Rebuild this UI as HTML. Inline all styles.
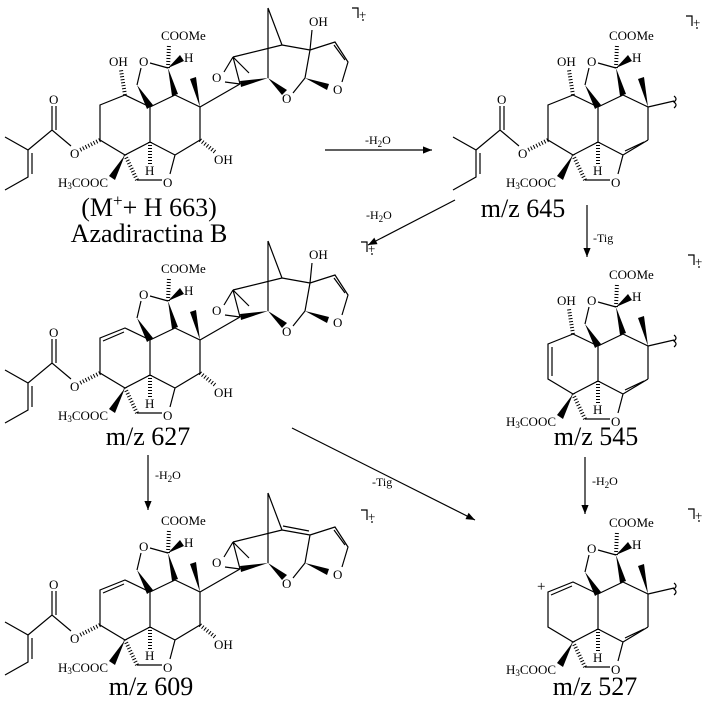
<!DOCTYPE html>
<html><head><meta charset="utf-8"><style>
html,body{margin:0;padding:0;background:#fff;}
svg{display:block;font-family:"Liberation Serif",serif;}
</style></head><body>
<svg width="722" height="702" viewBox="0 0 722 702" xmlns="http://www.w3.org/2000/svg">
<defs>
<marker id="ah" viewBox="0 0 10 10" refX="10" refY="5" markerWidth="9" markerHeight="9" orient="auto" markerUnits="userSpaceOnUse"><path d="M0,1 L10,5 L0,9 z" fill="#000"/></marker>
</defs>
<g stroke="#000" stroke-width="1.2" fill="none">
<line x1="325" y1="150" x2="432" y2="150" marker-end="url(#ah)"/>
<line x1="455" y1="200" x2="368" y2="245" marker-end="url(#ah)"/>
<line x1="587" y1="205" x2="587" y2="257" marker-end="url(#ah)"/>
<line x1="148" y1="455" x2="148" y2="510" marker-end="url(#ah)"/>
<line x1="585" y1="457" x2="585" y2="514" marker-end="url(#ah)"/>
<line x1="292" y1="428" x2="475" y2="520" marker-end="url(#ah)"/>
</g>
<g font-size="12" fill="#000">
<text x="365" y="144">-H<tspan font-size="9" dy="3">2</tspan><tspan dy="-3">O</tspan></text>
<text x="366" y="219">-H<tspan font-size="9" dy="3">2</tspan><tspan dy="-3">O</tspan></text>
<text x="593" y="242">-Tig</text>
<text x="155" y="479">-H<tspan font-size="9" dy="3">2</tspan><tspan dy="-3">O</tspan></text>
<text x="592" y="485">-H<tspan font-size="9" dy="3">2</tspan><tspan dy="-3">O</tspan></text>
<text x="372" y="486">-Tig</text>
</g>
<g font-size="26" fill="#000" text-anchor="middle">
<text x="149" y="216">(M<tspan font-size="17" dy="-10">+</tspan><tspan dy="10">+ H 663)</tspan></text>
<text x="149" y="242">Azadiractina B</text>
<text x="523" y="217">m/z 645</text>
<text x="148" y="445">m/z 627</text>
<text x="596" y="445">m/z 545</text>
<text x="151" y="695">m/z 609</text>
<text x="595" y="695">m/z 527</text>
</g>

<!-- radical cation marks -->
<g stroke="#000" stroke-width="1.2" fill="none">
<path d="M352,8 h6 v10"/><path d="M686,16 h6 v10"/><path d="M361,242 h6 v10"/>
<path d="M688,255 h6 v10"/><path d="M361,510 h6 v10"/><path d="M688,509 h6 v10"/>
</g>
<g font-size="13" fill="#000">
<text x="359" y="19">+</text><circle cx="363" cy="20" r="0.9"/>
<text x="693" y="27">+</text><circle cx="697" cy="28" r="0.9"/>
<text x="368" y="253">+</text><circle cx="372" cy="254" r="0.9"/>
<text x="695" y="266">+</text><circle cx="699" cy="267" r="0.9"/>
<text x="368" y="521">+</text><circle cx="372" cy="522" r="0.9"/>
<text x="695" y="520">+</text><circle cx="699" cy="521" r="0.9"/>
</g>

<g transform="translate(0,0)">
<g stroke="#000" stroke-width="1.2" fill="none">
<path d="M150,107 L150,142 L125,155 M150,107 L175,95 L200,107 L200,140 M175,155 L150,142 M175,155 L170,174 M162,180 L137,180 M137,85 L141,68 M150,63 L168,68"/>
<path d="M150,142 L150,165 M137,180 L125,155 M168,68 L169,44" stroke-width="4" stroke-dasharray="1 2"/>
</g>
<g fill="#000"><polygon points="137,85 147,109 153,105"/><polygon points="168,68 172,96 178,94"/><polygon points="168,68 180,55 184,61"/><polygon points="200,107 190,79 196,77"/><polygon points="125,155 109,176 115,180"/></g>
<g fill="#000" font-size="13">
<text x="161" y="40">COOMe</text><text x="184" y="62">H</text><text x="139" y="66">O</text>
<text x="58" y="187">H<tspan font-size="9" dy="2">3</tspan><tspan dy="-2">COOC</tspan></text>
<text x="145" y="175">H</text><text x="163" y="187">O</text>
</g>
<g stroke="#000" stroke-width="1.2" fill="none">
<path d="M200,140 L175,155 M200,107 L240,84 M233,57 L240,84 M233,57 L224,72 M225,82 L240,84 M233,57 L249,73 M233,57 L282,45 M268,8 L268,78 M268,8 L282,45 M282,45 L310,50 M310,50 L312,30 M293,93 L305,78 M305,78 L310,50 M342,82 L348,62 L335,42 L310,50 M345,60 L334,45"/>
<path d="M200,140 L215,152" stroke-width="4" stroke-dasharray="1 2"/>
</g>
<g fill="#000"><polygon points="268,78 240,81 241,87"/><polygon points="268,78 282,95 287,90"/><polygon points="305,78 329,84 327,90"/></g>
<g fill="#000" font-size="13"><text x="214" y="164">OH</text><text x="212" y="82">O</text><text x="282" y="103">O</text><text x="333" y="94">O</text><text x="309" y="26">OH</text></g>
<g stroke="#000" stroke-width="1.2" fill="none">
<path d="M150,107 L125,95 L100,105 L100,140 L125,155 M5,137 L28,150 L28,177 L5,190 M32,153 L32,174 M28,150 L52,130 L71,146 M52,130 L52,106 M56,130 L56,106"/>
<path d="M125,95 L121,70 M100,140 L80,150" stroke-width="4" stroke-dasharray="1 2"/>
</g>
<g fill="#000" font-size="13"><text x="109" y="66">OH</text><text x="49" y="104">O</text><text x="70" y="158">O</text></g>
</g>

<g transform="translate(448,0)">
<g stroke="#000" stroke-width="1.2" fill="none">
<path d="M150,107 L150,142 L125,155 M150,107 L175,95 L200,107 L200,140 M175,155 L150,142 M175,155 L170,174 M162,180 L137,180 M137,85 L141,68 M150,63 L168,68"/>
<path d="M150,142 L150,165 M137,180 L125,155 M168,68 L169,44" stroke-width="4" stroke-dasharray="1 2"/>
</g>
<g fill="#000"><polygon points="137,85 147,109 153,105"/><polygon points="168,68 172,96 178,94"/><polygon points="168,68 180,55 184,61"/><polygon points="200,107 190,79 196,77"/><polygon points="125,155 109,176 115,180"/></g>
<g fill="#000" font-size="13">
<text x="161" y="40">COOMe</text><text x="184" y="62">H</text><text x="139" y="66">O</text>
<text x="58" y="187">H<tspan font-size="9" dy="2">3</tspan><tspan dy="-2">COOC</tspan></text>
<text x="145" y="175">H</text><text x="163" y="187">O</text>
</g>
<g stroke="#000" stroke-width="1.2" fill="none"><path d="M200,140 L175,155 M196,142 L177,151 M200,107 L226,101 M226,96 q4,3 0,6 q4,3 0,6"/></g>
<g stroke="#000" stroke-width="1.2" fill="none">
<path d="M150,107 L125,95 L100,105 L100,140 L125,155 M5,137 L28,150 L28,177 L5,190 M32,153 L32,174 M28,150 L52,130 L71,146 M52,130 L52,106 M56,130 L56,106"/>
<path d="M125,95 L121,70 M100,140 L80,150" stroke-width="4" stroke-dasharray="1 2"/>
</g>
<g fill="#000" font-size="13"><text x="109" y="66">OH</text><text x="49" y="104">O</text><text x="70" y="158">O</text></g>
</g>

<g transform="translate(0,233)">
<g stroke="#000" stroke-width="1.2" fill="none">
<path d="M150,107 L150,142 L125,155 M150,107 L175,95 L200,107 L200,140 M175,155 L150,142 M175,155 L170,174 M162,180 L137,180 M137,85 L141,68 M150,63 L168,68"/>
<path d="M150,142 L150,165 M137,180 L125,155 M168,68 L169,44" stroke-width="4" stroke-dasharray="1 2"/>
</g>
<g fill="#000"><polygon points="137,85 147,109 153,105"/><polygon points="168,68 172,96 178,94"/><polygon points="168,68 180,55 184,61"/><polygon points="200,107 190,79 196,77"/><polygon points="125,155 109,176 115,180"/></g>
<g fill="#000" font-size="13">
<text x="161" y="40">COOMe</text><text x="184" y="62">H</text><text x="139" y="66">O</text>
<text x="58" y="187">H<tspan font-size="9" dy="2">3</tspan><tspan dy="-2">COOC</tspan></text>
<text x="145" y="175">H</text><text x="163" y="187">O</text>
</g>
<g stroke="#000" stroke-width="1.2" fill="none">
<path d="M200,140 L175,155 M200,107 L240,84 M233,57 L240,84 M233,57 L224,72 M225,82 L240,84 M233,57 L249,73 M233,57 L282,45 M268,8 L268,78 M268,8 L282,45 M282,45 L310,50 M310,50 L312,30 M293,93 L305,78 M305,78 L310,50 M342,82 L348,62 L335,42 L310,50 M345,60 L334,45"/>
<path d="M200,140 L215,152" stroke-width="4" stroke-dasharray="1 2"/>
</g>
<g fill="#000"><polygon points="268,78 240,81 241,87"/><polygon points="268,78 282,95 287,90"/><polygon points="305,78 329,84 327,90"/></g>
<g fill="#000" font-size="13"><text x="214" y="164">OH</text><text x="212" y="82">O</text><text x="282" y="103">O</text><text x="333" y="94">O</text><text x="309" y="26">OH</text></g>
<g stroke="#000" stroke-width="1.2" fill="none">
<path d="M150,107 L125,95 L100,105 L100,140 L125,155 M103,108 L124,99 M5,137 L28,150 L28,177 L5,190 M32,153 L32,174 M28,150 L52,130 L71,146 M52,130 L52,106 M56,130 L56,106"/>
<path d="M100,140 L80,150" stroke-width="4" stroke-dasharray="1 2"/>
</g>
<g fill="#000" font-size="13"><text x="49" y="104">O</text><text x="70" y="158">O</text></g>
</g>

<g transform="translate(0,485)">
<g stroke="#000" stroke-width="1.2" fill="none">
<path d="M150,107 L150,142 L125,155 M150,107 L175,95 L200,107 L200,140 M175,155 L150,142 M175,155 L170,174 M162,180 L137,180 M137,85 L141,68 M150,63 L168,68"/>
<path d="M150,142 L150,165 M137,180 L125,155 M168,68 L169,44" stroke-width="4" stroke-dasharray="1 2"/>
</g>
<g fill="#000"><polygon points="137,85 147,109 153,105"/><polygon points="168,68 172,96 178,94"/><polygon points="168,68 180,55 184,61"/><polygon points="200,107 190,79 196,77"/><polygon points="125,155 109,176 115,180"/></g>
<g fill="#000" font-size="13">
<text x="161" y="40">COOMe</text><text x="184" y="62">H</text><text x="139" y="66">O</text>
<text x="58" y="187">H<tspan font-size="9" dy="2">3</tspan><tspan dy="-2">COOC</tspan></text>
<text x="145" y="175">H</text><text x="163" y="187">O</text>
</g>
<g stroke="#000" stroke-width="1.2" fill="none">
<path d="M200,140 L175,155 M200,107 L240,84 M233,57 L240,84 M233,57 L224,72 M225,82 L240,84 M233,57 L249,73 M233,57 L282,45 M268,8 L268,78 M268,8 L282,45 M282,45 L310,50 M283,41 L309,46 M293,93 L305,78 M305,78 L310,50 M342,82 L348,62 L335,42 L310,50 M345,60 L334,45"/>
<path d="M200,140 L215,152" stroke-width="4" stroke-dasharray="1 2"/>
</g>
<g fill="#000"><polygon points="268,78 240,81 241,87"/><polygon points="268,78 282,95 287,90"/><polygon points="305,78 329,84 327,90"/></g>
<g fill="#000" font-size="13"><text x="214" y="164">OH</text><text x="212" y="82">O</text><text x="282" y="103">O</text><text x="333" y="94">O</text></g>
<g stroke="#000" stroke-width="1.2" fill="none">
<path d="M150,107 L125,95 L100,105 L100,140 L125,155 M103,108 L124,99 M5,137 L28,150 L28,177 L5,190 M32,153 L32,174 M28,150 L52,130 L71,146 M52,130 L52,106 M56,130 L56,106"/>
<path d="M100,140 L80,150" stroke-width="4" stroke-dasharray="1 2"/>
</g>
<g fill="#000" font-size="13"><text x="49" y="104">O</text><text x="70" y="158">O</text></g>
</g>

<g transform="translate(448,239)">
<g stroke="#000" stroke-width="1.2" fill="none">
<path d="M150,107 L150,142 L125,155 M150,107 L175,95 L200,107 L200,140 M175,155 L150,142 M175,155 L170,174 M162,180 L137,180 M137,85 L141,68 M150,63 L168,68"/>
<path d="M150,142 L150,165 M137,180 L125,155 M168,68 L169,44" stroke-width="4" stroke-dasharray="1 2"/>
</g>
<g fill="#000"><polygon points="137,85 147,109 153,105"/><polygon points="168,68 172,96 178,94"/><polygon points="168,68 180,55 184,61"/><polygon points="200,107 190,79 196,77"/><polygon points="125,155 109,176 115,180"/></g>
<g fill="#000" font-size="13">
<text x="161" y="40">COOMe</text><text x="184" y="62">H</text><text x="139" y="66">O</text>
<text x="58" y="187">H<tspan font-size="9" dy="2">3</tspan><tspan dy="-2">COOC</tspan></text>
<text x="145" y="175">H</text><text x="163" y="187">O</text>
</g>
<g stroke="#000" stroke-width="1.2" fill="none"><path d="M200,140 L175,155 M196,142 L177,151 M200,107 L226,101 M226,96 q4,3 0,6 q4,3 0,6"/></g>
<g stroke="#000" stroke-width="1.2" fill="none">
<path d="M150,107 L125,95 L100,105 L100,140 L125,155 M104,108 L104,137"/>
<path d="M125,95 L121,70" stroke-width="4" stroke-dasharray="1 2"/>
</g>
<g fill="#000" font-size="13"><text x="109" y="66">OH</text></g>
</g>

<g transform="translate(448,487)">
<g stroke="#000" stroke-width="1.2" fill="none">
<path d="M150,107 L150,142 L125,155 M150,107 L175,95 L200,107 L200,140 M175,155 L150,142 M175,155 L170,174 M162,180 L137,180 M137,85 L141,68 M150,63 L168,68"/>
<path d="M150,142 L150,165 M137,180 L125,155 M168,68 L169,44" stroke-width="4" stroke-dasharray="1 2"/>
</g>
<g fill="#000"><polygon points="137,85 147,109 153,105"/><polygon points="168,68 172,96 178,94"/><polygon points="168,68 180,55 184,61"/><polygon points="200,107 190,79 196,77"/><polygon points="125,155 109,176 115,180"/></g>
<g fill="#000" font-size="13">
<text x="161" y="40">COOMe</text><text x="184" y="62">H</text><text x="139" y="66">O</text>
<text x="58" y="187">H<tspan font-size="9" dy="2">3</tspan><tspan dy="-2">COOC</tspan></text>
<text x="145" y="175">H</text><text x="163" y="187">O</text>
</g>
<g stroke="#000" stroke-width="1.2" fill="none"><path d="M200,140 L175,155 M196,142 L177,151 M200,107 L226,101 M226,96 q4,3 0,6 q4,3 0,6"/></g>
<g stroke="#000" stroke-width="1.2" fill="none">
<path d="M150,107 L125,95 L100,105 L100,140 L125,155 M103,108 L124,99"/>
</g>
<g fill="#000" font-size="15"><text x="89" y="104">+</text></g>
</g>
</svg>
</body></html>
